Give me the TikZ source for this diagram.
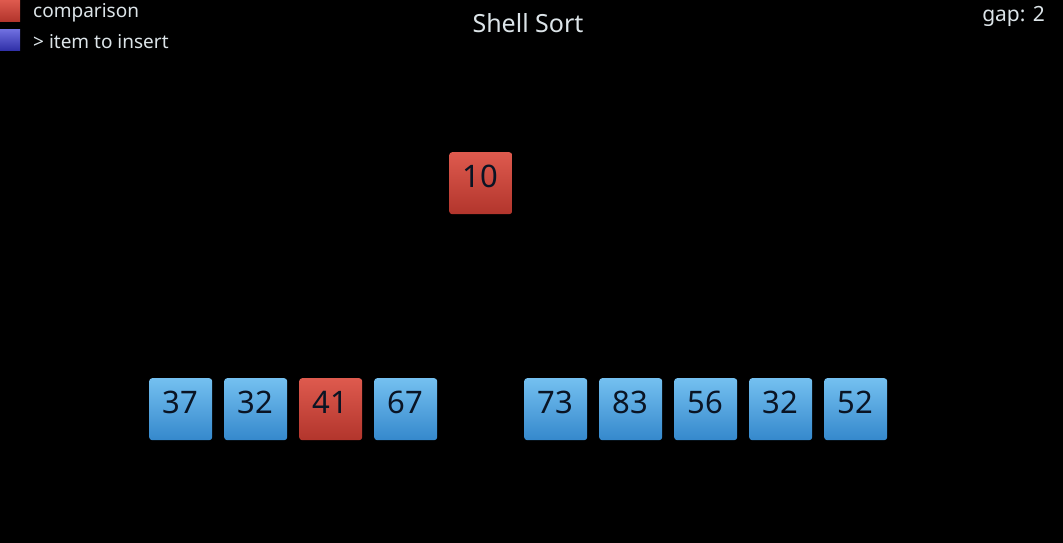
\documentclass[tikz,border=0pt]{standalone}
\usepackage{fontspec}
\setmainfont{Noto Sans}
\usetikzlibrary{shadings}
\definecolor{txt}{HTML}{DCE4E8}
\definecolor{btop}{HTML}{74C0F0}
\definecolor{bbot}{HTML}{3588CC}
\definecolor{rtop}{HTML}{DE5A4E}
\definecolor{rbot}{HTML}{B2352C}
\definecolor{num}{HTML}{0A1424}
\definecolor{ltop}{HTML}{7070E0}
\definecolor{lbot}{HTML}{3030A8}
\tikzset{
  x=1pt,y=-1pt,
  cell/.style={minimum width=63pt,minimum height=62pt,inner sep=0pt,rounded corners=3pt,
    text height=22pt,text depth=14pt,
    font=\fontsize{31}{31}\selectfont,text=num,anchor=north west},
  bluecell/.style={cell,top color=btop,bottom color=bbot},
  redcell/.style={cell,top color=rtop,bottom color=rbot},
  legendbox/.style={minimum width=20pt,minimum height=21pt,inner sep=0pt,anchor=north west},
  lbl/.style={text=txt,inner sep=0pt}
}
\begin{document}
\begin{tikzpicture}
\fill[black] (0,0) rectangle (1063,543);
\useasboundingbox (0,0) rectangle (1063,543);
% legend
\node[legendbox,top color=rtop,bottom color=rbot] (lr) at (0,0) {};
\node[legendbox,top color=ltop,bottom color=lbot] (lb) at (0,29) {};
\node[lbl,anchor=west,font=\fontsize{19}{19}\selectfont] (lt1) at (33,13) {comparison};
\node[lbl,anchor=west,font=\fontsize{19}{19}\selectfont] (lt2) at (33,42) {> item to insert};
% title
\node[lbl,font=\fontsize{25}{25}\selectfont] (title) at (528,23) {Shell Sort};
\node[lbl,anchor=east,font=\fontsize{21}{21}\selectfont] (gap) at (1045,16) {gap: 2};
% floating item
\node[redcell] (c10) at (449,152) {10};
% array
\node[bluecell] (a0) at (149,378) {37};
\node[bluecell] (a1) at (224,378) {32};
\node[redcell]  (a2) at (299,378) {41};
\node[bluecell] (a3) at (374,378) {67};
\node[bluecell] (a5) at (524,378) {73};
\node[bluecell] (a6) at (599,378) {83};
\node[bluecell] (a7) at (674,378) {56};
\node[bluecell] (a8) at (749,378) {32};
\node[bluecell] (a9) at (824,378) {52};
\end{tikzpicture}
\end{document}
